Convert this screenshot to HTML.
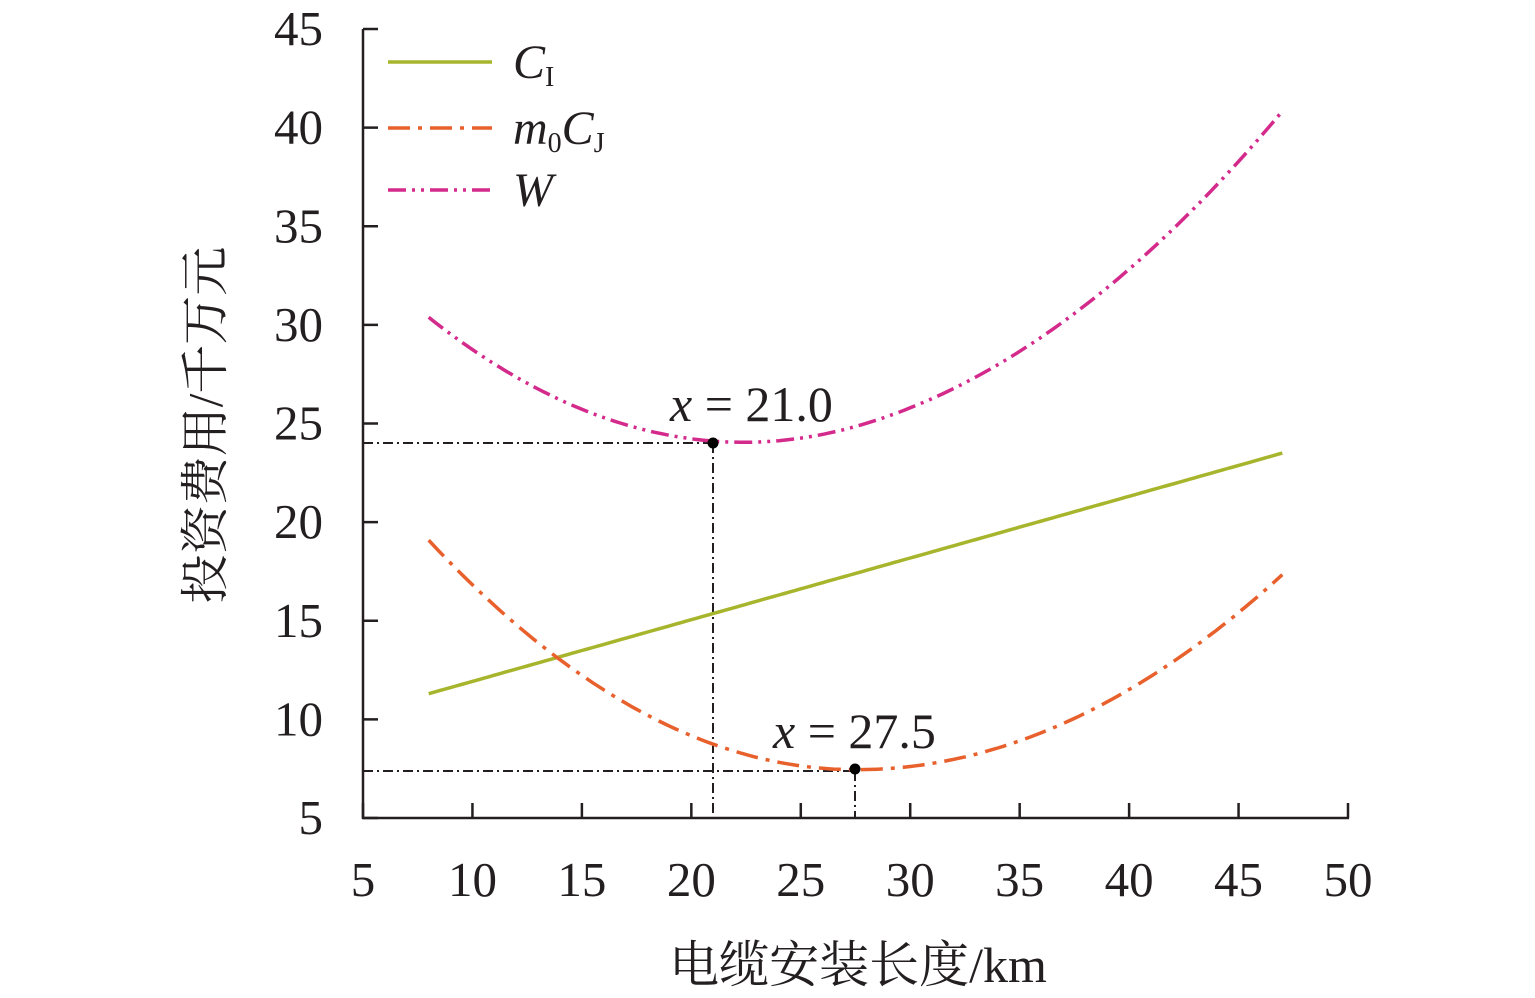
<!DOCTYPE html>
<html><head><meta charset="utf-8"><style>
html,body{margin:0;padding:0;background:#fff;}
svg{display:block;}
text{font-family:"Liberation Serif","Noto Serif CJK SC",serif;fill:#231f20;}
</style></head><body>
<svg id="s" width="1535" height="998" xmlns="http://www.w3.org/2000/svg">
<g stroke="#231f20" stroke-width="2.5" fill="none">
<line x1="363" y1="29" x2="363" y2="819"/>
<line x1="362" y1="818" x2="1349" y2="818"/>
</g>
<g id="ticks" stroke="#231f20" stroke-width="2.5"></g>
<g id="labels" font-size="49"></g>
<text x="858" y="982" font-size="50" text-anchor="middle">电缆安装长度/km</text>
<text transform="translate(222,425) rotate(-90)" font-size="49" text-anchor="middle">投资费用/千万元</text>
<g stroke="#231f20" stroke-width="2" stroke-dasharray="10,4,2,4" fill="none">
<line x1="363" y1="443" x2="713" y2="443"/>
<line x1="713" y1="443" x2="713" y2="818"/>
<line x1="363" y1="771" x2="855" y2="771"/>
<line x1="855" y1="771" x2="855" y2="818"/>
</g>
<path id="ci" stroke="#a7b52c" stroke-width="3.5" fill="none"/>
<path id="cj" stroke="#e8602c" stroke-width="3.5" fill="none" stroke-dasharray="22,8,4,8"/>
<path id="w" stroke="#d42a8c" stroke-width="3.5" fill="none" stroke-dasharray="18,6,3,6,3,6"/>
<circle cx="713" cy="443" r="5.5" fill="#000"/>
<circle cx="855" cy="769" r="5.5" fill="#000"/>
<text x="670" y="421" font-size="50"><tspan font-style="italic">x</tspan> = 21.0</text>
<text x="773" y="748" font-size="50"><tspan font-style="italic">x</tspan> = 27.5</text>
<line x1="388" y1="62" x2="492" y2="62" stroke="#a7b52c" stroke-width="3.5"/>
<line x1="388" y1="128" x2="492" y2="128" stroke="#e8602c" stroke-width="3.5" stroke-dasharray="22,8,4,8"/>
<line x1="388" y1="190" x2="492" y2="190" stroke="#d42a8c" stroke-width="3.5" stroke-dasharray="18,6,3,6,3,6"/>
<text x="513" y="78" font-size="48" font-style="italic">C<tspan font-size="28" font-style="normal" dy="8">I</tspan></text>
<text x="513" y="144" font-size="48" font-style="italic">m<tspan font-size="28" font-style="normal" dy="8">0</tspan><tspan dy="-8">C</tspan><tspan font-size="28" font-style="normal" dy="8">J</tspan></text>
<text x="513" y="206" font-size="48" font-style="italic">W</text>
</svg>
<script>
var X=function(v){return 363+(v-5)*985/45;},Y=function(v){return 818-(v-5)*789/40;};
var t=document.getElementById('ticks'),l=document.getElementById('labels'),ns="http://www.w3.org/2000/svg";
for(var v=5;v<=50;v+=5){var e=document.createElementNS(ns,'line');e.setAttribute('x1',X(v));e.setAttribute('x2',X(v));e.setAttribute('y1',803);e.setAttribute('y2',818);t.appendChild(e);
var tx=document.createElementNS(ns,'text');tx.setAttribute('x',X(v));tx.setAttribute('y',896);tx.setAttribute('text-anchor','middle');tx.textContent=v;l.appendChild(tx);}
for(var v=5;v<=45;v+=5){var e=document.createElementNS(ns,'line');e.setAttribute('x1',363);e.setAttribute('x2',378);e.setAttribute('y1',Y(v));e.setAttribute('y2',Y(v));t.appendChild(e);
var tx=document.createElementNS(ns,'text');tx.setAttribute('x',323);tx.setAttribute('y',Y(v)+16);tx.setAttribute('text-anchor','end');tx.textContent=v;l.appendChild(tx);}
function ci(x){return 11.3+0.3128*(x-8);}
function cj(x){var a=x<27.5?0.0306:0.026;return 7.45+a*(x-27.5)*(x-27.5);}
function p(f){var s='';for(var x=8;x<=47.001;x+=0.25){s+=(s?'L':'M')+X(x).toFixed(1)+','+Y(f(x)).toFixed(1);}return s;}
document.getElementById('ci').setAttribute('d',p(ci));
document.getElementById('cj').setAttribute('d',p(cj));
document.getElementById('w').setAttribute('d',p(function(x){return ci(x)+cj(x);}));
</script>
</body></html>
